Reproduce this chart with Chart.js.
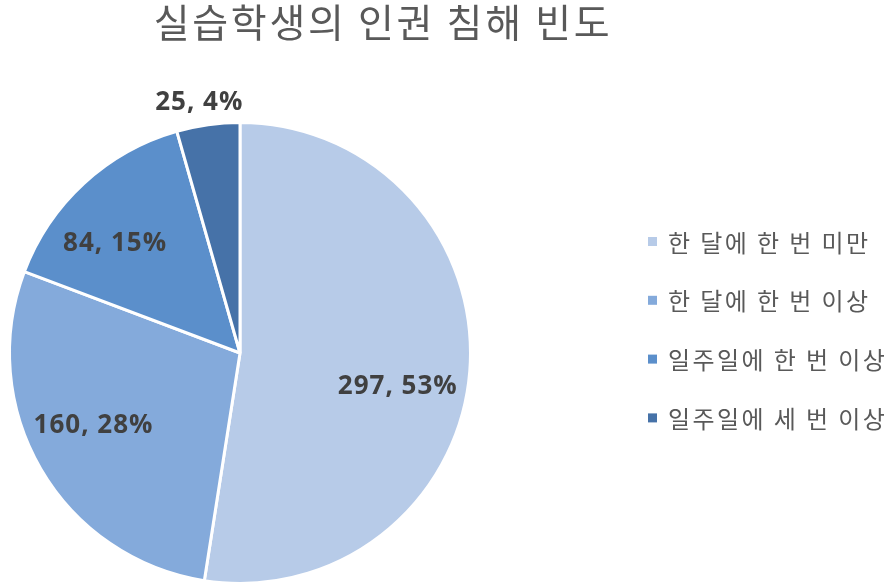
<!DOCTYPE html>
<html lang="ko">
<head>
<meta charset="utf-8">
<title>실습학생의 인권 침해 빈도</title>
<script src="https://cdn.jsdelivr.net/npm/chart.js@4.4.1/dist/chart.umd.min.js"></script>
<style>
  html, body { margin: 0; padding: 0; background: #ffffff; }
  #wrap { width: 889px; height: 585px; position: relative; }
</style>
</head>
<body>
<div id="wrap"><canvas id="chart" width="889" height="585"></canvas></div>
<script>
// Frequency of rights violations experienced by trainee students
const chartTitle = '실습학생의 인권 침해 빈도';
const categories = ['한 달에 한 번 미만', '한 달에 한 번 이상', '일주일에 한 번 이상', '일주일에 세 번 이상'];
const counts = [297, 160, 84, 25];
const percents = [53, 28, 15, 4];
const sliceColors = ['#b7cbe8', '#84aadb', '#5b8fcb', '#4672a8'];

// Where each value label sits: fraction of the radius and angular nudge (degrees)
const labelRadius = [0.70, 0.71, 0.72, 1.10];
const labelNudge = [7.6, 3.7, -6.2, -1.3];

const textGrey = '#595959';
const labelGrey = '#404040';

// Value labels drawn on (or just outside) each slice
const valueLabels = {
  id: 'valueLabels',
  afterDatasetsDraw(chart) {
    const ctx = chart.ctx;
    const meta = chart.getDatasetMeta(0);
    ctx.save();
    ctx.font = 'bold 26px "Open Sans", "Noto Sans", sans-serif';
    ctx.letterSpacing = '1px';
    ctx.fillStyle = labelGrey;
    ctx.textAlign = 'center';
    ctx.textBaseline = 'middle';
    meta.data.forEach((arc, i) => {
      const p = arc.getProps(['x', 'y', 'startAngle', 'endAngle', 'outerRadius'], true);
      const mid = (p.startAngle + p.endAngle) / 2 + labelNudge[i] * Math.PI / 180;
      const r = p.outerRadius * labelRadius[i];
      const x = p.x + Math.cos(mid) * r;
      const y = p.y + Math.sin(mid) * r;
      ctx.fillText(counts[i] + ', ' + percents[i] + '%', x, y);
    });
    ctx.restore();
  }
};

// Title across the top and the legend on the right
const titleAndLegend = {
  id: 'titleAndLegend',
  afterDraw(chart) {
    const ctx = chart.ctx;
    ctx.save();
    ctx.fillStyle = textGrey;
    ctx.textAlign = 'center';
    ctx.textBaseline = 'middle';
    ctx.font = '39px "Noto Sans CJK KR", sans-serif';
    ctx.letterSpacing = '2.7px';
    ctx.fillText(chartTitle, 383, 22);

    const ds = chart.data.datasets[0];
    ctx.textAlign = 'left';
    ctx.font = '24px "Noto Sans CJK KR", sans-serif';
    ctx.letterSpacing = '2.4px';
    chart.data.labels.forEach((lab, i) => {
      const cy = 241.5 + i * 58.8;
      ctx.fillStyle = ds.backgroundColor[i];
      ctx.fillRect(648, cy - 4.5, 9, 9);
      ctx.fillStyle = textGrey;
      ctx.fillText(lab, 668, cy + 1);
    });
    ctx.restore();
  }
};

new Chart(document.getElementById('chart'), {
  type: 'pie',
  data: {
    labels: categories,
    datasets: [{
      data: counts,
      backgroundColor: sliceColors,
      borderColor: '#ffffff',
      borderWidth: 3
    }]
  },
  options: {
    responsive: false,
    animation: false,
    layout: { padding: { left: 8, right: 417, top: 121, bottom: 0 } },
    plugins: {
      legend: { display: false },
      title: { display: false },
      tooltip: { enabled: false }
    }
  },
  plugins: [valueLabels, titleAndLegend]
});
</script>
</body>
</html>
